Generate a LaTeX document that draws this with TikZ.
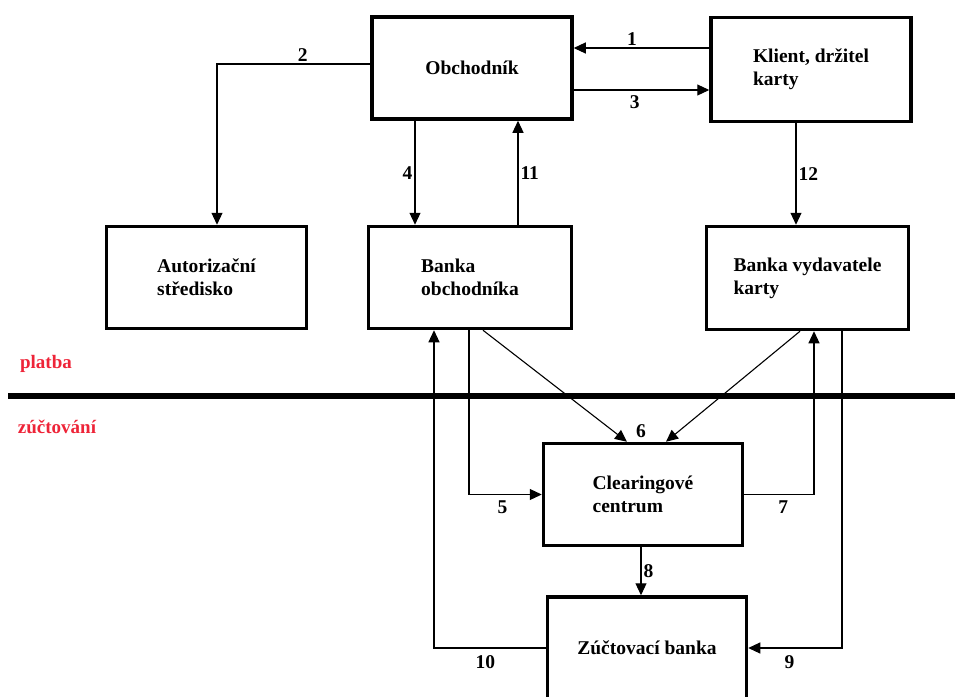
\documentclass[tikz,border=0pt]{standalone}
\usepackage{fontspec}
\setmainfont{Liberation Serif}
\usetikzlibrary{arrows.meta,positioning,calc}

\definecolor{cervena}{RGB}{238,36,56}

\begin{document}
\begin{tikzpicture}[x=1pt,y=-1pt,
  box/.style={draw,line width=3.5pt,minimum width=200pt,minimum height=102pt,
    align=left,font=\fontsize{19.5}{23}\selectfont\bfseries},
  arr/.style={line width=1.1pt,-{Triangle[length=12pt,width=11pt]}},
  lbl/.style={font=\fontsize{19.5}{23}\selectfont\bfseries,inner sep=2pt},
  fazeLbl/.style={text=cervena,font=\fontsize{19}{22}\selectfont\bfseries}]

  \useasboundingbox (0,0) rectangle (955,696);

  \node [box] (obch) at (472,68) {Obchodník};
  \node [box,minimum height=104pt] (klient) at (811,69.5) {Klient, držitel\\karty};
  \node [box] (autor) at (206.5,277.5) {Autorizační\\středisko};
  \node [box,minimum width=203pt] (bankaO) at (470,277.5) {Banka\\obchodníka};
  \node [box,minimum width=202pt,minimum height=103pt] (bankaV) at (807.5,278) {Banka vydavatele\\karty};
  \node [box,minimum width=199pt] (clear) at (643,494.5) {Clearingové\\centrum};
  \node [box,minimum width=199pt] (zuct) at (647,648) {Zúčtovací banka};

  % platba / zuctovani
  \draw [line width=6pt] (8,396) -- (955,396);
  \node [fazeLbl] (platba) at (46,364) {platba};
  \node [fazeLbl] (zuctovani) at (57,427) {zúčtování};

  \draw [arr] (klient.west |- 0,48) -- node [lbl,above,pos=0.57] {1} (obch.east |- 0,48);

  \draw [arr] (obch.west |- 0,64) -| node [lbl,above,pos=0.22] {2} (217,0 |- autor.north);

  \draw [arr] (obch.east |- 0,90) -- node [lbl,below,pos=0.45,yshift=-3pt] {3} (klient.west |- 0,90);

  \draw [arr] (obch.south -| 415,0) -- node [lbl,left] {4} (bankaO.north -| 415,0);

  \draw [arr] (bankaO.north -| 518,0) -- node [lbl,right] {11} (obch.south -| 518,0);

  \draw [arr] (klient.south -| 796,0) -- node [lbl,right] {12} (bankaV.north -| 796,0);

  \draw [arr] (bankaO.south -| 483,0) -- (clear.north -| 627,0);
  \draw [arr] (bankaV.south -| 800,0) -- (clear.north -| 666,0);
  \node [lbl] (l6) at (641,431) {6};

  \draw [arr] (bankaO.south -| 469,0) |- node [lbl,below,pos=0.73,yshift=-4pt] {5} (clear.west);

  \draw [arr] (clear.east) -| node [lbl,below,pos=0.28,yshift=-4pt] {7} (bankaV.south -| 814,0);

  \draw [arr] (clear.south -| 641,0) -- node [lbl,right] {8} (zuct.north -| 641,0);

  \draw [arr] (bankaV.south -| 842,0) |- node [lbl,below,pos=0.78,yshift=-5pt] {9} (zuct.east);

  \draw [arr] (zuct.west) -| node [lbl,below,pos=0.27,yshift=-5pt] {10} (bankaO.south -| 434,0);

\end{tikzpicture}
\end{document}
